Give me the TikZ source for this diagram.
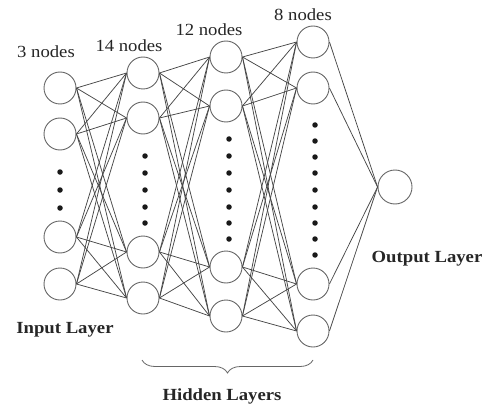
\documentclass[tikz,border=0pt]{standalone}
\usepackage{fontspec}
\setmainfont{Liberation Serif}[FakeStretch=1.1]
\usetikzlibrary{decorations.pathreplacing}
\begin{document}
\begin{tikzpicture}[x=1pt,y=-1pt,
  neuron/.style={circle, draw=black!60, line width=0.9pt, minimum size=32pt, inner sep=0pt},
  outneuron/.style={neuron, minimum size=34pt},
  link/.style={draw=black!72, line width=0.75pt},
  ndot/.style={circle, fill=black!90, inner sep=0pt, minimum size=5.5pt},
  cnt/.style={font=\fontsize{17}{19}\selectfont, inner sep=0pt, text=black!85},
  lay/.style={font=\fontsize{17}{19}\selectfont\bfseries, inner sep=0pt, text=black!85},
  bracestyle/.style={draw=black!60, line width=0.8pt, decorate, decoration={brace, amplitude=13pt, mirror}}]
\useasboundingbox (0,0) rectangle (486,406);

% layers
\foreach \n/\y in {1/88,2/134,3/237,4/284} \node[neuron] (a\n) at (60,\y) {};
\foreach \n/\y in {1/73,2/118,3/252,4/298} \node[neuron] (b\n) at (143,\y) {};
\foreach \n/\y in {1/57,2/106,3/267,4/316} \node[neuron] (c\n) at (226,\y) {};
\foreach \n/\y in {1/42,2/88,3/284,4/331} \node[neuron] (d\n) at (313,\y) {};
\node[outneuron] (o) at (395,187) {};

% connectors
\foreach \i in {1,...,4} {
  \foreach \j in {1,...,4} {
    \draw[link] (a\i.east) -- (b\j.west);
    \draw[link] (b\i.east) -- (c\j.west);
    \draw[link] (c\i.east) -- (d\j.west);
  }
  \draw[link] (d\i.east) -- (o.west);
}

% dots
\foreach \k/\y in {1/172,2/190,3/208} \node[ndot] (pa\k) at (60,\y) {};
\foreach \k/\y in {1/156,2/173,3/190,4/207,5/223} \node[ndot] (pb\k) at (145,\y) {};
\foreach \k/\y in {1/139,2/156,3/173,4/190,5/207,6/223,7/239} \node[ndot] (pc\k) at (229,\y) {};
\foreach \k/\y in {1/125,2/141,3/157,4/173,5/190,6/207,7/223,8/239,9/255} \node[ndot] (pd\k) at (315,\y) {};

% labels
\node[cnt] (la) at (46,52) {3 nodes};
\node[cnt] (lb) at (129,46) {14 nodes};
\node[cnt] (lc) at (209,30) {12 nodes};
\node[cnt] (ld) at (303,15) {8 nodes};
\node[lay] (lin) at (65,330) {Input Layer};
\node[lay] (lout) at (427,259) {Output Layer};

% brace
\coordinate (bl) at (142,360);
\coordinate (br) at (313,360);
\draw[bracestyle] (bl) -- (br);
\node[lay] (lhid) at (222,396) {Hidden Layers};
\end{tikzpicture}
\end{document}
